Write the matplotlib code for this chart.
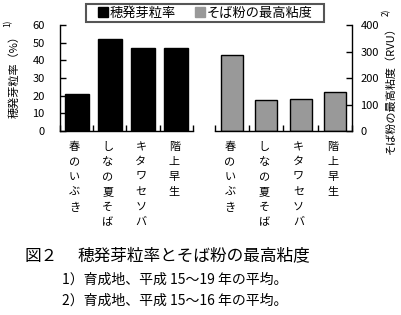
import matplotlib
matplotlib.use('Agg')
import matplotlib.pyplot as plt
from matplotlib.lines import Line2D
from matplotlib.patches import Rectangle

plt.rcParams['font.family'] = ['Noto Sans CJK JP', 'DejaVu Sans']

varieties = ['春のいぶき', 'しなの夏そば', 'キタワセソバ', '階上早生']
sprout_rate = [21, 52, 47, 47]        # 穂発芽粒率 (%)
viscosity = [287, 117, 121, 146]      # そば粉の最高粘度 (RVU)

W, H = 402, 315
fig = plt.figure(figsize=(W / 100, H / 100), dpi=100)

ax1 = fig.add_axes([60 / W, 1 - 131 / H, 133 / W, 106 / H])
ax2 = fig.add_axes([215 / W, 1 - 131 / H, 137 / W, 106 / H])

x = range(len(varieties))
b1 = ax1.bar(x, sprout_rate, width=0.72, color='black', edgecolor='black', linewidth=1)
b2 = ax2.bar(x, viscosity, width=0.64, color='#999999', edgecolor='black', linewidth=1)

for ax, ymax, step in [(ax1, 60, 10), (ax2, 400, 100)]:
    ax.set_xlim(-0.5, len(varieties) - 0.5)
    ax.set_ylim(0, ymax)
    ax.set_yticks(range(0, ymax + 1, step))
    ax.set_xticks([i - 0.5 for i in range(len(varieties) + 1)])
    ax.set_xticklabels([])
    ax.tick_params(axis='x', direction='in', length=4, width=1)
    ax.spines['top'].set_visible(False)
    for s in ax.spines.values():
        s.set_linewidth(1)
    for i, name in enumerate(varieties):
        ax.annotate('\n'.join(name), xy=(i, 0), xycoords=('data', 'axes fraction'),
                    xytext=(-1.5, -8), textcoords='offset points',
                    ha='center', va='top', fontsize=8, linespacing=1.62)

ax1.spines['right'].set_visible(False)
ax1.tick_params(axis='y', direction='in', length=4, width=1, pad=11, labelsize=8)

ax2.spines['left'].set_visible(False)
ax2.yaxis.tick_right()
ax2.tick_params(axis='y', direction='in', length=4, width=1, pad=6, labelsize=8)

# y labels with superscript notes
fig.text(14 / W, 1 - 74 / H, '穂発芽粒率（%）', rotation=90, ha='center', va='center', fontsize=8)
fig.text(8 / W, 1 - 23 / H, '1)', rotation=90, ha='center', va='center', fontsize=6)
fig.text(391 / W, 1 - 88 / H, 'そば粉の最高粘度（RVU）', rotation=90, ha='center', va='center', fontsize=8)
fig.text(386 / W, 1 - 12 / H, '2)', rotation=90, ha='center', va='center', fontsize=6)

# legend: frameless entries inside a wide box
handles = [Line2D([], [], linestyle='none', marker='s', markersize=7, color='black'),
           Line2D([], [], linestyle='none', marker='s', markersize=7, color='#999999')]
fig.legend(handles, ['穂発芽粒率', 'そば粉の最高粘度'], loc='center',
           bbox_to_anchor=(205 / W, 1 - 13 / H), ncol=2, fontsize=9.5,
           frameon=False, handlelength=0.8, handletextpad=0.1,
           columnspacing=1.45, borderpad=0.2, borderaxespad=0)
fig.add_artist(Rectangle((86 / W, 1 - 22 / H), 238 / W, 18 / H, transform=fig.transFigure,
                         fill=False, edgecolor='#555555', linewidth=1.5))

fig.text(25 / W, 1 - 256 / H, '図２', fontsize=12, va='center', ha='left')
fig.text(77 / W, 1 - 256 / H, '穂発芽粒率とそば粉の最高粘度', fontsize=12, va='center', ha='left')
fig.text(62 / W, 1 - 280 / H, '1）育成地、平成 15～19 年の平均。', fontsize=10, va='center', ha='left')
fig.text(62 / W, 1 - 301 / H, '2）育成地、平成 15～16 年の平均。', fontsize=10, va='center', ha='left')

fig.savefig('out.png', dpi=100)
